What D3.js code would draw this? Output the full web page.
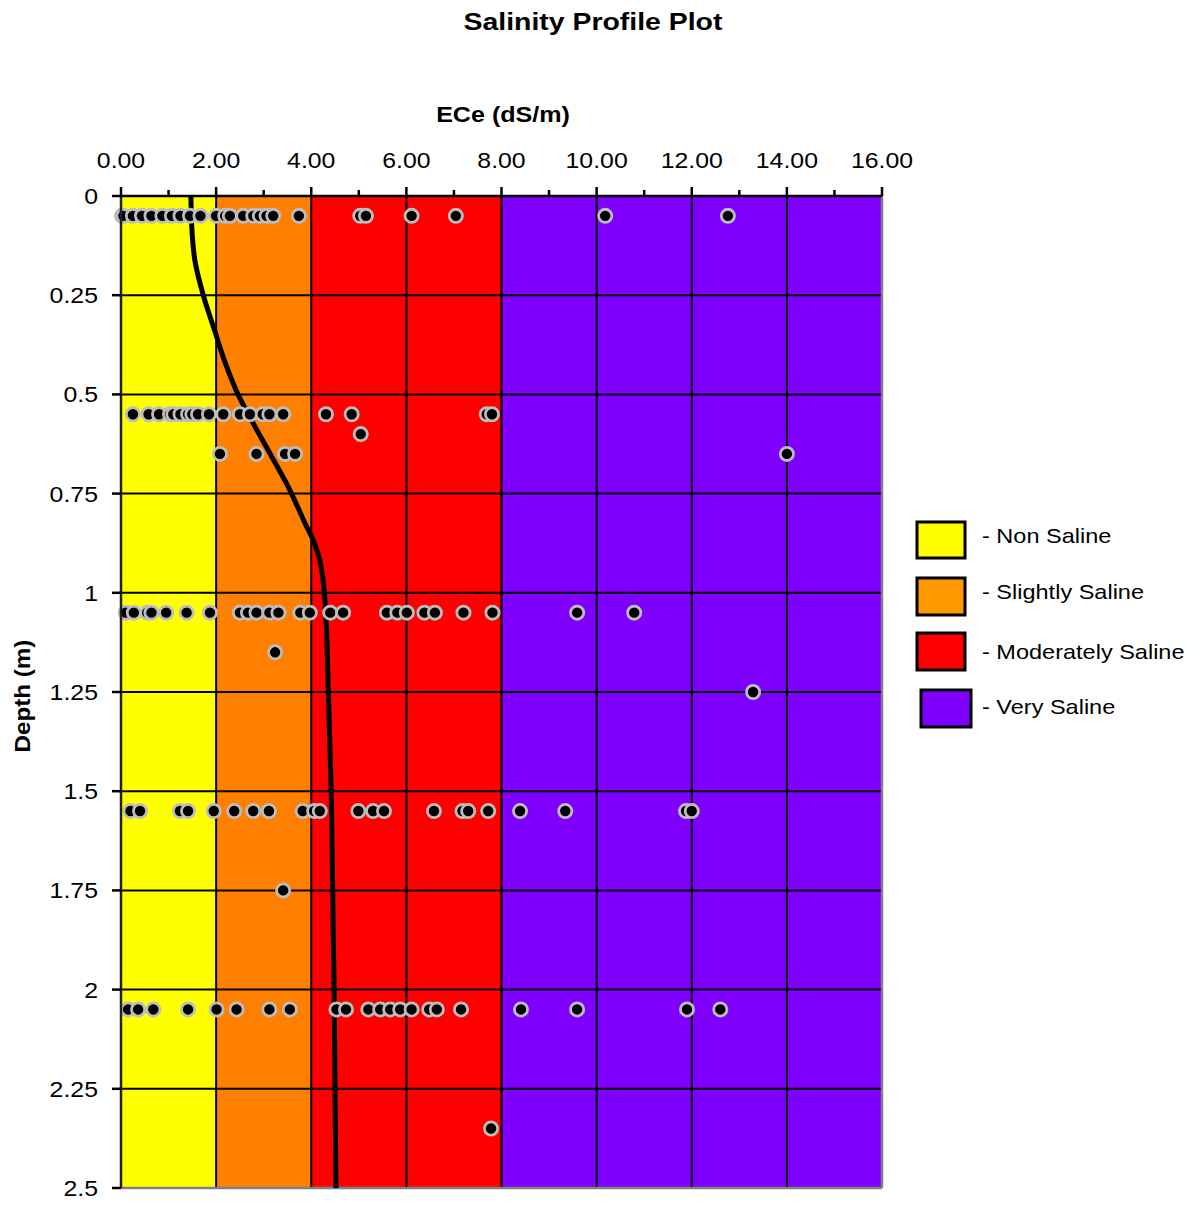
<!DOCTYPE html>
<html><head><meta charset="utf-8">
<script src="https://cdn.jsdelivr.net/npm/d3@7"></script>
<style>body{margin:0;background:#fff}svg{display:block}text{font-family:Arial,"Liberation Sans",sans-serif;fill:#000}</style>
</head><body>
<script>
// ---- data ----
const xTicks = [0,2,4,6,8,10,12,14,16];
const xMinorTicks = [1,3,5,7,9,11,13,15];
const yTicks = [0,0.25,0.5,0.75,1,1.25,1.5,1.75,2,2.25,2.5];
const yTickLabels = ["0","0.25","0.5","0.75","1","1.25","1.5","1.75","2","2.25","2.5"];
const classNames = ["- Non Saline","- Slightly Saline","- Moderately Saline","- Very Saline"];
const classFrom = [0,2,4,8];
const classTo = [2,4,8,16];
const classColors = ["#FFFF00","#FF8000","#FF0000","#8000FF"];
const legendColors = ["#FFFF00","#FF9900","#FF0000","#8000FF"];

const sampleDepths = [0.05,0.55,0.60,0.65,1.05,1.15,1.25,1.55,1.75,2.05,2.35];
const ece005 = [0.02,0.05,0.25,0.44,0.64,0.87,1.07,1.25,1.45,1.67,2.0,2.19,2.29,2.57,2.78,2.92,3.06,3.2,3.74,5.03,5.15,6.11,7.04,10.18,12.76];
const ece055 = [0.25,0.58,0.8,1.03,1.1,1.25,1.41,1.5,1.62,1.85,2.15,2.5,2.71,2.98,3.12,3.41,4.31,4.85,7.69,7.8];
const ece060 = [5.04];
const ece065 = [2.08,2.85,3.45,3.66,14.0];
const ece105 = [0.1,0.27,0.55,0.64,0.95,1.38,1.87,2.5,2.67,2.85,3.12,3.31,3.77,3.97,4.4,4.67,5.59,5.81,6.01,6.38,6.6,7.2,7.81,9.59,10.79];
const ece115 = [3.24];
const ece125 = [13.29];
const ece155 = [0.2,0.4,1.24,1.41,1.95,2.38,2.78,3.11,3.82,4.06,4.18,4.99,5.3,5.53,6.58,7.18,7.3,7.72,8.39,9.34,11.88,12.0];
const ece175 = [3.41];
const ece205 = [0.15,0.36,0.68,1.41,2.01,2.43,3.12,3.55,4.53,4.73,5.2,5.45,5.66,5.87,6.11,6.48,6.64,7.15,8.41,9.59,11.9,12.6];
const ece235 = [7.78];
const sampleRows = [ece005,ece055,ece060,ece065,ece105,ece115,ece125,ece155,ece175,ece205,ece235];

const profileDepth = [0,0.083,0.167,0.25,0.336,0.42,0.5,0.573,0.657,0.741,0.825,0.867,0.909,0.959,1.025,1.25,1.5,1.75,2.0,2.25,2.5];
const profileEce   = [1.47,1.49,1.56,1.73,1.96,2.19,2.46,2.78,3.17,3.55,3.87,4.04,4.16,4.24,4.29,4.36,4.42,4.45,4.48,4.5,4.52];

// ---- layout ----
const W=1204,H=1205;
const svg=d3.select("body").append("svg").attr("width",W).attr("height",H);
const x=d3.scaleLinear().domain([0,16]).range([121,882]);
const y=d3.scaleLinear().domain([0,2.5]).range([196,1188]);

function label(g,tx,ty,str,size,weight,anchor,sx,rot){
  const t=g.append("text").text(str).attr("font-size",size).attr("font-weight",weight).attr("text-anchor",anchor)
    .attr("transform",`translate(${tx},${ty})`+(rot?` rotate(${rot})`:"")+` scale(${sx},1)`);
  return t;
}

// bands
svg.selectAll("rect.band").data(classFrom).join("rect").attr("class","band")
  .attr("x",(d)=>x(d)).attr("y",y(0))
  .attr("width",(d,i)=>x(classTo[i])-x(d)).attr("height",y(2.5)-y(0))
  .attr("fill",(d,i)=>classColors[i]);

// grid
svg.selectAll("line.hg").data(yTicks.slice(1,-1)).join("line").attr("class","hg")
  .attr("x1",x(0)).attr("x2",x(16)).attr("y1",d=>y(d)).attr("y2",d=>y(d))
  .attr("stroke","#000").attr("stroke-width",2);
svg.selectAll("line.vg").data(xTicks.slice(1,-1)).join("line").attr("class","vg")
  .attr("y1",y(0)).attr("y2",y(2.5)).attr("x1",d=>x(d)).attr("x2",d=>x(d))
  .attr("stroke","#000").attr("stroke-width",2);

// border right/bottom
svg.append("line").attr("x1",x(16)).attr("x2",x(16)).attr("y1",y(0)).attr("y2",y(2.5)).attr("stroke","#808080").attr("stroke-width",2.5);
svg.append("line").attr("x1",x(0)).attr("x2",x(16)).attr("y1",y(2.5)).attr("y2",y(2.5)).attr("stroke","#808080").attr("stroke-width",2.5);

// profile curve
const line=d3.line().x(d=>x(d[1])).y(d=>y(d[0])).curve(d3.curveMonotoneY);
svg.append("path").datum(profileDepth.map((d,i)=>[d,profileEce[i]]))
  .attr("d",line).attr("fill","none").attr("stroke","#000").attr("stroke-width",5);

// points
const pts=[];
sampleRows.forEach((row,i)=>row.forEach(v=>pts.push([sampleDepths[i],v])));
svg.selectAll("circle.p").data(pts).join("circle").attr("class","p")
  .attr("cx",d=>x(d[1])).attr("cy",d=>y(d[0])).attr("r",6.6)
  .attr("fill","#000").attr("stroke","#BDBDBD").attr("stroke-width",2.8);

// axes lines
svg.append("line").attr("x1",x(0)).attr("x2",x(16)).attr("y1",y(0)).attr("y2",y(0)).attr("stroke","#000").attr("stroke-width",2.5);
svg.append("line").attr("x1",x(0)).attr("x2",x(0)).attr("y1",y(0)).attr("y2",y(2.5)).attr("stroke","#222").attr("stroke-width",2.5);
svg.selectAll("line.xt").data(xTicks).join("line").attr("class","xt")
  .attr("x1",d=>x(d)).attr("x2",d=>x(d)).attr("y1",y(0)-9).attr("y2",y(0)).attr("stroke","#000").attr("stroke-width",2.5);
svg.selectAll("line.xmt").data(xMinorTicks).join("line").attr("class","xmt")
  .attr("x1",d=>x(d)).attr("x2",d=>x(d)).attr("y1",y(0)-6).attr("y2",y(0)).attr("stroke","#000").attr("stroke-width",2.5);
svg.selectAll("line.yt").data(yTicks).join("line").attr("class","yt")
  .attr("x1",x(0)-9).attr("x2",x(0)).attr("y1",d=>y(d)).attr("y2",d=>y(d)).attr("stroke","#000").attr("stroke-width",2.5);

// tick labels
xTicks.forEach(d=>label(svg,x(d),168,d.toFixed(2),22,"normal","middle",1.13));
yTicks.forEach((d,i)=>label(svg,98,y(d)+8,yTickLabels[i],22,"normal","end",1.13));

// titles
label(svg,593,30,"Salinity Profile Plot",24.5,"bold","middle",1.16);
label(svg,503,122,"ECe (dS/m)",22,"bold","middle",1.14);
label(svg,30,696,"Depth (m)",22,"bold","middle",1.1,-90);

// legend
const lg=[[917,522,48,36],[917,578,48,37],[917,633,48,37],[921,690,50,37]];
const lty=[543,599,659,714];
classNames.forEach((n,i)=>{
  svg.append("rect").attr("x",lg[i][0]).attr("y",lg[i][1]).attr("width",lg[i][2]).attr("height",lg[i][3])
    .attr("fill",legendColors[i]).attr("stroke","#000").attr("stroke-width",3);
  label(svg,982,lty[i],n,21,"normal","start",1.12);
});
</script>
</body></html>
